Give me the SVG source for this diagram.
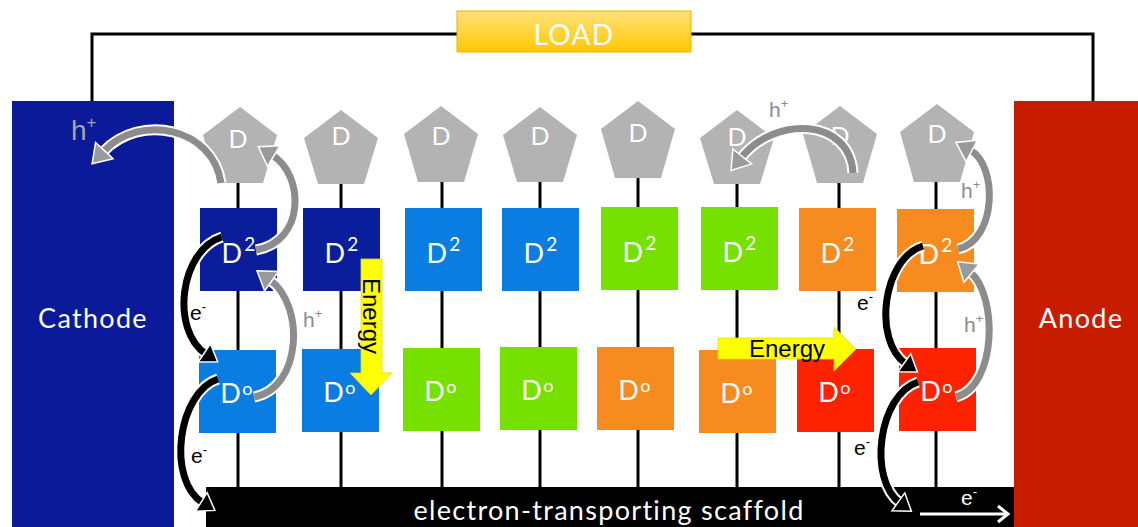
<svg xmlns="http://www.w3.org/2000/svg" width="1138" height="527" viewBox="0 0 1138 527">
<defs>
<style>
.lbl{font-family:Lato,"Open Sans",sans-serif;fill:#fff;font-size:27px;text-anchor:middle;letter-spacing:1.3px}
.sup2{font-size:19px}
.supo{font-size:18px}
.pent{fill:#b3b3b3}
.pt{font-family:Lato,"Open Sans",sans-serif;fill:#fff;font-size:25px;text-anchor:middle}
.stem{stroke:#000;stroke-width:3}
.sm{font-family:"Liberation Sans",Arial,sans-serif;font-size:21px}
.sp{font-size:13px}
.ol{fill:none;stroke:#fff;stroke-width:11;stroke-linecap:butt}
.gs{fill:none;stroke:#8c8c8c;stroke-width:7}
.bs{fill:none;stroke:#000;stroke-width:7}
.db{fill:#0a1e9c}.bb{fill:#0a7de2}.gr{fill:#76e000}.or{fill:#f68b1f}.rd{fill:#fe2300}
</style>
<linearGradient id="loadg" x1="0" y1="0" x2="0" y2="1">
<stop offset="0" stop-color="#ffe27a"/><stop offset="1" stop-color="#ffc800"/>
</linearGradient>
<marker id="mg" markerUnits="userSpaceOnUse" markerWidth="30" markerHeight="30" viewBox="0 0 30 30" refX="3" refY="15" orient="auto">
<path d="M1,3 L19,15 L1,27 Z" fill="#9a9a9a" stroke="#fff" stroke-width="1.5"/>
</marker>
<marker id="mb" markerUnits="userSpaceOnUse" markerWidth="30" markerHeight="30" viewBox="0 0 30 30" refX="3" refY="15" orient="auto">
<path d="M1,4 L17,15 L1,26 Z" fill="#000" stroke="#fff" stroke-width="1.5"/>
</marker>
<marker id="mw" markerUnits="userSpaceOnUse" markerWidth="20" markerHeight="20" viewBox="0 0 20 20" refX="12" refY="10" orient="auto">
<path d="M2,2 L12,10 L2,18" fill="none" stroke="#fff" stroke-width="3"/>
</marker>
</defs>
<rect width="1138" height="527" fill="#fff"/>

<g id="connectors">
<path d="M92,101 V34 H1093 V101" fill="none" stroke="#000" stroke-width="3"/>
<line class="stem" x1="238" y1="180" x2="238" y2="488"/>
<line class="stem" x1="341" y1="180" x2="341" y2="488"/>
<line class="stem" x1="442" y1="180" x2="442" y2="488"/>
<line class="stem" x1="540" y1="180" x2="540" y2="488"/>
<line class="stem" x1="638" y1="176" x2="638" y2="488"/>
<line class="stem" x1="737" y1="180" x2="737" y2="488"/>
<line class="stem" x1="839" y1="180" x2="839" y2="488"/>
<line class="stem" x1="936" y1="180" x2="936" y2="488"/>
</g>

<g id="load">
<rect x="457" y="11" width="234" height="41" fill="url(#loadg)" stroke="#e8b400" stroke-width="1"/>
<text class="lbl" x="574" y="45" style="font-size:28px">LOAD</text>
</g>

<g id="cathode">
<rect x="12" y="101" width="162" height="426" fill="#0a1a99"/>
<text class="lbl" x="93" y="328">Cathode</text>
</g>
<g id="anode">
<rect x="1014" y="101" width="124" height="426" fill="#c81c00"/>
<text class="lbl" x="1081" y="328">Anode</text>
</g>
<g id="scaffold">
<rect x="206" y="487" width="808" height="40" fill="#000"/>
<text class="lbl" x="609" y="520">electron-transporting scaffold</text>
</g>

<g id="D-1"><polygon class="pent" points="240,107 277,135 263,183 217,183 203,135"/><text class="pt" x="238" y="148">D</text></g>
<g id="D-2"><polygon class="pent" points="341,110 378,138 364,184 318,184 304,138"/><text class="pt" x="341" y="145">D</text></g>
<g id="D-3"><polygon class="pent" points="441,106 478,134 464,182 418,182 404,134"/><text class="pt" x="441" y="145">D</text></g>
<g id="D-4"><polygon class="pent" points="540,107 577,135 563,182 517,182 503,135"/><text class="pt" x="540" y="145">D</text></g>
<g id="D-5"><polygon class="pent" points="638,101 675,129 661,178 615,178 601,129"/><text class="pt" x="638" y="142">D</text></g>
<g id="D-6"><polygon class="pent" points="737,110 774,138 760,184 714,184 700,138"/><text class="pt" x="737" y="146">D</text></g>
<g id="D-7"><polygon class="pent" points="840,106 877,134 863,183 817,183 803,134"/><text class="pt" x="840" y="145">D</text></g>
<g id="D-8"><polygon class="pent" points="937,104 974,132 960,182 914,182 900,132"/><text class="pt" x="937" y="143">D</text></g>

<g id="D2-1"><rect class="db" x="200" y="208" width="77" height="83"/><text class="lbl" x="239" y="263">D<tspan class="sup2" dx="1" dy="-12">2</tspan></text></g>
<g id="D2-2"><rect class="db" x="303" y="208" width="77" height="83"/><text class="lbl" x="342" y="263">D<tspan class="sup2" dx="1" dy="-12">2</tspan></text></g>
<g id="D2-3"><rect class="bb" x="405" y="208" width="77" height="83"/><text class="lbl" x="444" y="263">D<tspan class="sup2" dx="1" dy="-12">2</tspan></text></g>
<g id="D2-4"><rect class="bb" x="502" y="208" width="77" height="83"/><text class="lbl" x="541" y="263">D<tspan class="sup2" dx="1" dy="-12">2</tspan></text></g>
<g id="D2-5"><rect class="gr" x="601" y="207" width="77" height="83"/><text class="lbl" x="640" y="262">D<tspan class="sup2" dx="1" dy="-12">2</tspan></text></g>
<g id="D2-6"><rect class="gr" x="701" y="207" width="77" height="83"/><text class="lbl" x="740" y="262">D<tspan class="sup2" dx="1" dy="-12">2</tspan></text></g>
<g id="D2-7"><rect class="or" x="799" y="208" width="77" height="83"/><text class="lbl" x="838" y="263">D<tspan class="sup2" dx="1" dy="-12">2</tspan></text></g>
<g id="D2-8"><rect class="or" x="897" y="209" width="77" height="83"/><text class="lbl" x="936" y="264">D<tspan class="sup2" dx="1" dy="-12">2</tspan></text></g>

<g id="Do-1"><rect class="bb" x="199" y="350" width="77" height="83"/><text class="lbl" x="237" y="403">D<tspan class="supo" dy="-8">o</tspan></text></g>
<g id="Do-2"><rect class="bb" x="302" y="349" width="77" height="83"/><text class="lbl" x="340" y="402">D<tspan class="supo" dy="-8">o</tspan></text></g>
<g id="Do-3"><rect class="gr" x="403" y="348" width="77" height="83"/><text class="lbl" x="441" y="401">D<tspan class="supo" dy="-8">o</tspan></text></g>
<g id="Do-4"><rect class="gr" x="500" y="347" width="77" height="83"/><text class="lbl" x="538" y="400">D<tspan class="supo" dy="-8">o</tspan></text></g>
<g id="Do-5"><rect class="or" x="597" y="347" width="77" height="83"/><text class="lbl" x="635" y="400">D<tspan class="supo" dy="-8">o</tspan></text></g>
<g id="Do-6"><rect class="or" x="699" y="350" width="77" height="83"/><text class="lbl" x="737" y="403">D<tspan class="supo" dy="-8">o</tspan></text></g>
<g id="Do-7"><rect class="rd" x="797" y="349" width="77" height="83"/><text class="lbl" x="835" y="402">D<tspan class="supo" dy="-8">o</tspan></text></g>
<g id="Do-8"><rect class="rd" x="899" y="348" width="77" height="83"/><text class="lbl" x="937" y="401">D<tspan class="supo" dy="-8">o</tspan></text></g>

<g id="energy-down">
<path d="M361,259 H382 V373 H392 L371,395 L350,373 H361 Z" fill="#ffff00" stroke="#e0e000" stroke-width="0.8"/>
<text class="sm" style="font-size:24px" transform="translate(371,316) rotate(90)" x="0" y="8" text-anchor="middle">Energy</text>
</g>
<g id="energy-right">
<path d="M718,338 H834 V327 L856,349 L834,371 V359 H718 Z" fill="#ffff00" stroke="#e0e000" stroke-width="0.8"/>
<text class="sm" style="font-size:24px" x="787" y="357" text-anchor="middle">Energy</text>
</g>

<g id="transfer-arrows">
<path class="ol" d="M221,183 C213,128 140,112 103,152"/>
<path class="gs" d="M221,183 C213,128 140,112 103,152" marker-end="url(#mg)"/>
<path class="ol" d="M256,250 C305,242 305,175 272,155"/>
<path class="gs" d="M256,250 C305,242 305,175 272,155" marker-end="url(#mg)"/>
<path class="ol" d="M222,237 C180,250 170,330 206,354"/>
<path class="bs" d="M222,237 C180,250 170,330 206,354" marker-end="url(#mb)"/>
<path class="ol" d="M254,397 C302,388 305,305 270,280"/>
<path class="gs" d="M254,397 C302,388 305,305 270,280" marker-end="url(#mg)"/>
<path class="ol" d="M218,379 C178,392 166,480 203,503"/>
<path class="bs" d="M218,379 C178,392 166,480 203,503" marker-end="url(#mb)"/>
<path class="ol" d="M853,173 C850,118 775,115 741,158"/>
<path class="gs" d="M853,173 C850,118 775,115 741,158" marker-end="url(#mg)"/>
<path class="ol" d="M958,249 C997,240 998,165 970,150"/>
<path class="gs" d="M958,249 C997,240 998,165 970,150" marker-end="url(#mg)"/>
<path class="ol" d="M956,397 C997,386 998,295 970,272"/>
<path class="gs" d="M956,397 C997,386 998,295 970,272" marker-end="url(#mg)"/>
<path class="ol" d="M923,246 C883,258 872,340 906,364"/>
<path class="bs" d="M923,246 C883,258 872,340 906,364" marker-end="url(#mb)"/>
<path class="ol" d="M918,382 C878,395 868,480 900,503"/>
<path class="bs" d="M918,382 C878,395 868,480 900,503" marker-end="url(#mb)"/>
<path d="M920,514 H1008" fill="none" stroke="#fff" stroke-width="3" marker-end="url(#mw)"/>
</g>

<g id="labels">
<text class="sm" x="71" y="140" style="font-size:28px" fill="#a6a6a6">h<tspan style="font-size:17px" dy="-12">+</tspan></text>
<text class="sm" x="769" y="117" fill="#8c8c8c">h<tspan class="sp" dy="-9">+</tspan></text>
<text class="sm" x="303" y="327" fill="#8c8c8c">h<tspan class="sp" dy="-9">+</tspan></text>
<text class="sm" x="961" y="198" fill="#8c8c8c">h<tspan class="sp" dy="-9">+</tspan></text>
<text class="sm" x="964" y="332" fill="#8c8c8c">h<tspan class="sp" dy="-9">+</tspan></text>
<text class="sm" x="190" y="320" fill="#000">e<tspan class="sp" dy="-9">-</tspan></text>
<text class="sm" x="191" y="463" fill="#000">e<tspan class="sp" dy="-9">-</tspan></text>
<text class="sm" x="857" y="310" fill="#000">e<tspan class="sp" dy="-9">-</tspan></text>
<text class="sm" x="854" y="455" fill="#000">e<tspan class="sp" dy="-9">-</tspan></text>
<text class="sm" x="961" y="505" fill="#fff">e<tspan class="sp" dy="-9">-</tspan></text>
</g>
</svg>
